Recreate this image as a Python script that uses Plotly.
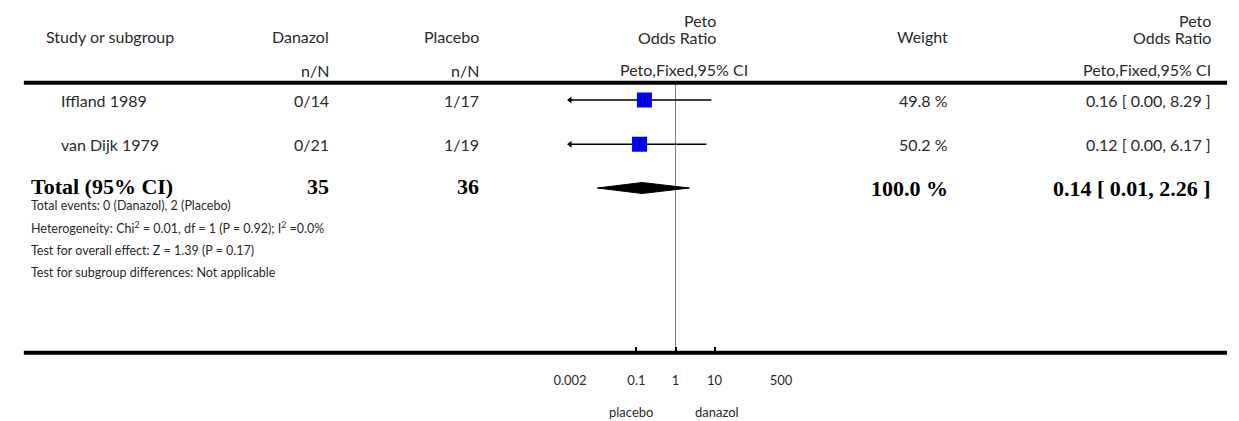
import math
import plotly.graph_objects as go

W, H = 1239, 421

# ---------------- data ----------------
studies = ["Iffland 1989", "van Dijk 1979"]
danazol_nN = ["0/14", "0/21"]
placebo_nN = ["1/17", "1/19"]
weights = ["49.8 %", "50.2 %"]
or_est = [0.16, 0.12]
or_lo = [0.00, 0.00]
or_hi = [8.29, 6.17]
or_text = ["0.16 [ 0.00, 8.29 ]", "0.12 [ 0.00, 6.17 ]"]

total_label = "Total (95% CI)"
total_danazol = "35"
total_placebo = "36"
total_weight = "100.0 %"
total_est = 0.14
total_lo = 0.01
total_hi = 2.26
total_text = "0.14 [ 0.01, 2.26 ]"

footnotes = [
    "Total events: 0 (Danazol), 2 (Placebo)",
    "Heterogeneity: Chi<sup>2</sup> = 0.01, df = 1 (P = 0.92); I<sup>2</sup> =0.0%",
    "Test for overall effect: Z = 1.39 (P = 0.17)",
    "Test for subgroup differences: Not applicable",
]

tick_vals = [0.002, 0.1, 1, 10, 500]
tick_text = ["0.002", "0.1", "1", "10", "500"]
axis_min, axis_max = 0.002, 500
left_label = "placebo"
right_label = "danazol"

# ---------------- layout helpers (pixels) ----------------
AX_Y = 352.7
row_y = [100, 144.3]
total_y = 188
foot_y = [205, 227.5, 250, 272.5]


def px(x):
    return x / W


def py(y):
    return 1 - y / H


REG = "Lato"
SER = "Liberation Serif"
TXT = "#2a2a2a"

fig = go.Figure()

# reference line at OR = 1
fig.add_trace(go.Scatter(x=[1, 1], y=[84, AX_Y], mode="lines",
                         line=dict(color="#808080", width=1), hoverinfo="skip"))

for i in range(len(studies)):
    lo = max(or_lo[i], axis_min)
    hi = min(or_hi[i], axis_max)
    fig.add_trace(go.Scatter(x=[lo, hi], y=[row_y[i], row_y[i]], mode="lines",
                             line=dict(color="black", width=1.5), hoverinfo="skip"))
    if or_lo[i] < axis_min:
        fig.add_trace(go.Scatter(x=[axis_min], y=[row_y[i]], mode="markers",
                                 marker=dict(symbol="triangle-left", size=6, color="black"),
                                 cliponaxis=False, hoverinfo="skip"))
    fig.add_trace(go.Scatter(x=[or_est[i]], y=[row_y[i]], mode="markers",
                             marker=dict(symbol="square", size=15, color="#0000FF",
                                         line=dict(width=0)), hoverinfo="skip"))
    fig.add_trace(go.Scatter(x=[or_est[i]], y=[row_y[i]], mode="markers",
                             marker=dict(symbol="line-ns", size=6,
                                         line=dict(width=1, color="black")), hoverinfo="skip"))

# diamond for total
fig.add_trace(go.Scatter(x=[total_lo, total_est, total_hi, total_est, total_lo],
                         y=[total_y, total_y - 5.5, total_y, total_y + 5.5, total_y],
                         mode="lines", fill="toself", fillcolor="black",
                         line=dict(color="black", width=1), hoverinfo="skip"))

ann = []


def add(text, x, y, anchor="left", size=16, family=REG, color=TXT, bold=False):
    ann.append(dict(text=("<b>%s</b>" % text) if bold else text,
                    x=px(x), y=py(y), xref="paper", yref="paper",
                    xanchor=anchor, yanchor="middle", showarrow=False,
                    font=dict(family=family, size=size, color=color)))


# header
add("Study or subgroup", 28, 37)
add("Danazol", 322, 37, "right")
add("n/N", 322, 70, "right")
add("Placebo", 475, 37, "right")
add("n/N", 475, 70, "right")
add("Peto", 718, 20, "right")
add("Odds Ratio", 718, 37.5, "right")
add("Peto,Fixed,95% CI", 683, 69.5, "center")
add("Weight", 955, 37, "right")
add("Peto", 1225, 20, "right")
add("Odds Ratio", 1225, 37.5, "right")
add("Peto,Fixed,95% CI", 1225, 69.5, "right")

for i in range(len(studies)):
    add(studies[i], 43, row_y[i])
    add(danazol_nN[i], 322, row_y[i], "right")
    add(placebo_nN[i], 475, row_y[i], "right")
    add(weights[i], 955, row_y[i], "right")
    add(or_text[i], 1225, row_y[i], "right")

BS = 22
add(total_label, 12, total_y - 1, size=BS, family=SER, color="black", bold=True)
add(total_danazol, 322, total_y - 1, "right", size=BS, family=SER, color="black", bold=True)
add(total_placebo, 475, total_y - 1, "right", size=BS, family=SER, color="black", bold=True)
add(total_weight, 955, total_y + 1, "right", size=BS, family=SER, color="black", bold=True)
add(total_text, 1225, total_y + 1, "right", size=BS, family=SER, color="black", bold=True)

for t, y in zip(footnotes, foot_y):
    add(t, 12, y, size=12.5)

add(left_label, 629, 412, "center", size=13)
add(right_label, 717, 412, "center", size=13)

shapes = [
    dict(type="line", xref="paper", yref="paper", x0=px(7), x1=1, y0=py(82.7), y1=py(82.7),
         line=dict(color="black", width=4)),
    dict(type="line", xref="paper", yref="paper", x0=px(7), x1=1, y0=py(AX_Y), y1=py(AX_Y),
         line=dict(color="black", width=4)),
]

fig.update_layout(
    width=W, height=H, margin=dict(l=0, r=0, t=0, b=0),
    paper_bgcolor="white", plot_bgcolor="rgba(0,0,0,0)",
    showlegend=False, annotations=ann, shapes=shapes,
    xaxis=dict(type="log", domain=[px(566.3), px(782.3)],
               range=[math.log10(axis_min), math.log10(axis_max)],
               tickvals=tick_vals, ticktext=tick_text, ticks="inside",
               ticklen=6, tickwidth=2, tickcolor="black", showline=False,
               showgrid=False, zeroline=False, ticklabelstandoff=18,
               tickfont=dict(family=REG, size=13, color=TXT), fixedrange=True),
    yaxis=dict(domain=[py(AX_Y), 1], range=[AX_Y, 0], visible=False,
               showgrid=False, zeroline=False, fixedrange=True),
)

fig.write_html("out.html", config={"displayModeBar": False},
               post_script="document.body.style.margin='0';document.body.style.overflow='hidden';")
